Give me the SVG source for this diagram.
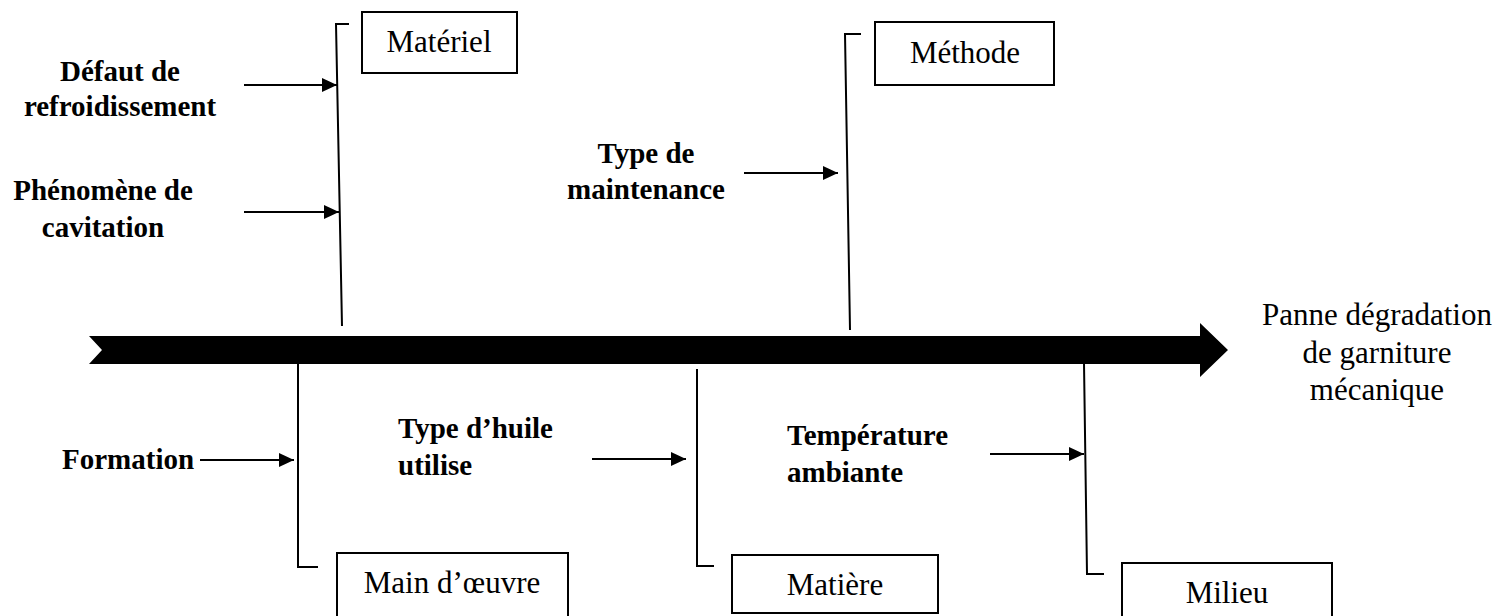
<svg xmlns="http://www.w3.org/2000/svg" width="1509" height="616" viewBox="0 0 1509 616">
<style>
.box{fill:#fff;stroke:#000;stroke-width:2}
.br{fill:none;stroke:#000;stroke-width:2}
.ar{stroke:#000;stroke-width:2;fill:none;marker-end:url(#ah)}
.t{font-family:"Liberation Serif","Times New Roman",serif;font-size:31px;fill:#000}
.b{font-family:"Liberation Serif","Times New Roman",serif;font-size:29px;font-weight:bold;fill:#000}
.m{text-anchor:middle}
</style>
<defs>
<marker id="ah" markerUnits="userSpaceOnUse" markerWidth="15" markerHeight="14" refX="15" refY="7" orient="auto">
<path d="M0,0 L15,7 L0,14 z" fill="#000"/>
</marker>
</defs>
<rect width="1509" height="616" fill="#fff"/>
<g id="spine">
<polygon points="89,336 1200,336 1200,323 1228,350 1200,377 1200,364 89,364 102,350" fill="#000"/>
</g>
<g id="connectors">
<polyline class="br" points="349,24 336,24 342,326"/>
<polyline class="br" points="861,34 845,34 850,330"/>
<polyline class="br" points="298,363 298,567 318,567"/>
<polyline class="br" points="697,369 697,566 714,566"/>
<polyline class="br" points="1084,363 1087,574 1104,574"/>
<line class="ar" x1="244" y1="85" x2="337" y2="85"/>
<line class="ar" x1="244" y1="212" x2="339" y2="212"/>
<line class="ar" x1="744" y1="173" x2="838" y2="173"/>
<line class="ar" x1="200" y1="460" x2="294" y2="460"/>
<line class="ar" x1="592" y1="459" x2="686" y2="459"/>
<line class="ar" x1="990" y1="454" x2="1084" y2="454"/>
</g>
<g id="materiel">
<rect class="box" x="362" y="12" width="155" height="61"/>
<text class="t m" x="439" y="52">Matériel</text>
</g>
<g id="methode">
<rect class="box" x="875" y="22" width="179" height="63"/>
<text class="t m" x="965" y="63">Méthode</text>
</g>
<g id="main-oeuvre">
<rect class="box" x="337" y="553" width="231" height="70"/>
<text class="t m" x="452" y="593">Main d’œuvre</text>
</g>
<g id="matiere">
<rect class="box" x="732" y="555" width="206" height="58"/>
<text class="t m" x="835" y="595">Matière</text>
</g>
<g id="milieu">
<rect class="box" x="1122" y="563" width="210" height="60"/>
<text class="t m" x="1227" y="603">Milieu</text>
</g>
<g id="effet">
<text class="t m" x="1377" y="325">Panne dégradation</text>
<text class="t m" x="1377" y="363">de garniture</text>
<text class="t m" x="1377" y="400">mécanique</text>
</g>
<g id="defaut">
<text class="b m" x="120" y="81">Défaut de</text>
<text class="b m" x="120" y="116">refroidissement</text>
</g>
<g id="cavitation">
<text class="b m" x="103" y="200">Phénomène de</text>
<text class="b m" x="103" y="237">cavitation</text>
</g>
<g id="type-maintenance">
<text class="b m" x="646" y="163">Type de</text>
<text class="b m" x="646" y="199">maintenance</text>
</g>
<g id="formation">
<text class="b" x="62" y="469">Formation</text>
</g>
<g id="type-huile">
<text class="b" x="398" y="438">Type d’huile</text>
<text class="b" x="398" y="475">utilise</text>
</g>
<g id="temperature">
<text class="b" x="787" y="445">Température</text>
<text class="b" x="787" y="482">ambiante</text>
</g>
</svg>
